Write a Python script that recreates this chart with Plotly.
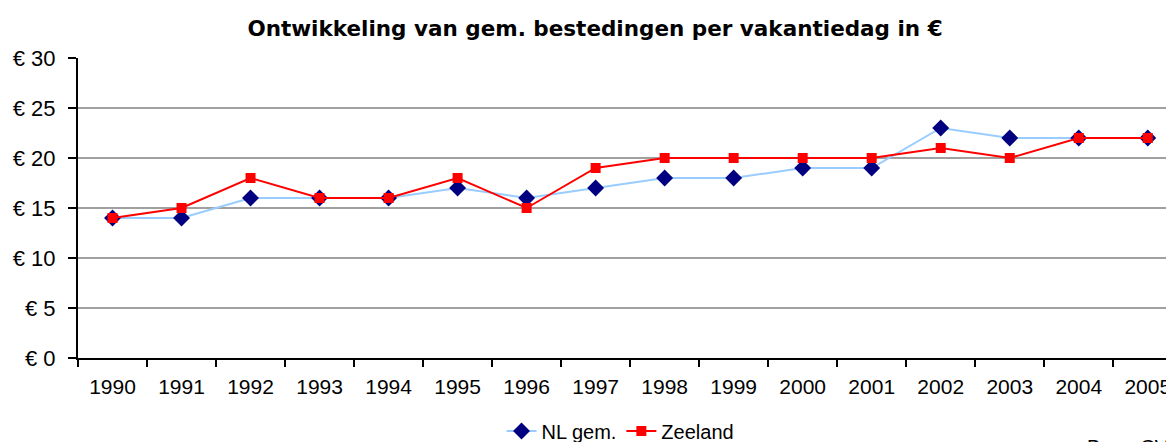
import plotly.graph_objects as go

years = ["1990", "1991", "1992", "1993", "1994", "1995", "1996", "1997",
         "1998", "1999", "2000", "2001", "2002", "2003", "2004", "2005"]
nl_gem = [14, 14, 16, 16, 16, 17, 16, 17, 18, 18, 19, 19, 23, 22, 22, 22]
zeeland = [14, 15, 18, 16, 16, 18, 15, 19, 20, 20, 20, 20, 21, 20, 22, 22]
y_ticks = [0, 5, 10, 15, 20, 25, 30]
y_labels = ["€ " + str(v) for v in y_ticks]

FONT = "Liberation Sans, Arial, sans-serif"

fig = go.Figure()
fig.add_trace(go.Scatter(
    x=years, y=nl_gem, name="NL gem.", mode="lines+markers",
    line=dict(color="#99CCFF", width=2),
    marker=dict(symbol="diamond", size=13, color="#000080"),
))
fig.add_trace(go.Scatter(
    x=years, y=zeeland, name="Zeeland", mode="lines+markers",
    line=dict(color="#FF0000", width=2),
    marker=dict(symbol="square", size=10, color="#FF0000"),
))

W, H = 1166, 434
fig.update_layout(
    width=W, height=H, autosize=False,
    paper_bgcolor="white", plot_bgcolor="white",
    margin=dict(l=70, r=0, t=50, b=84),
    font=dict(family=FONT, size=20, color="black"),
    title=dict(text="<b>Ontwikkeling van gem. bestedingen per vakantiedag in €</b>",
               x=587 / W, xanchor="center", y=1 - 20 / H, yanchor="middle",
               font=dict(family="DejaVu Sans, sans-serif", size=21.5, color="black")),
    showlegend=True,
    legend=dict(orientation="h", x=0.495, xanchor="center",
                yref="container", y=1 - 423 / H, yanchor="middle",
                font=dict(size=20), bgcolor="rgba(0,0,0,0)"),
    xaxis=dict(type="category", range=[-0.5, 15.38], tickson="boundaries",
               ticks="outside", ticklen=7, tickcolor="black", tickwidth=1.5,
               showline=True, linecolor="black", linewidth=2, showgrid=False,
               ticklabelstandoff=9, tickfont=dict(size=21)),
    yaxis=dict(range=[0, 30], tickvals=y_ticks, ticktext=y_labels,
               ticks="outside", ticklen=8, tickcolor="black", tickwidth=1.5,
               showline=True, linecolor="black", linewidth=2,
               showgrid=True, gridcolor="#A0A0A0", gridwidth=2,
               zeroline=False, ticklabelstandoff=8, tickfont=dict(size=22)),
    annotations=[dict(text="Bron: CVO", xref="paper", yref="paper",
                      x=0.919, y=-0.253, xanchor="left", yanchor="top",
                      showarrow=False, font=dict(size=20))],
)

fig.write_html("out.html")
